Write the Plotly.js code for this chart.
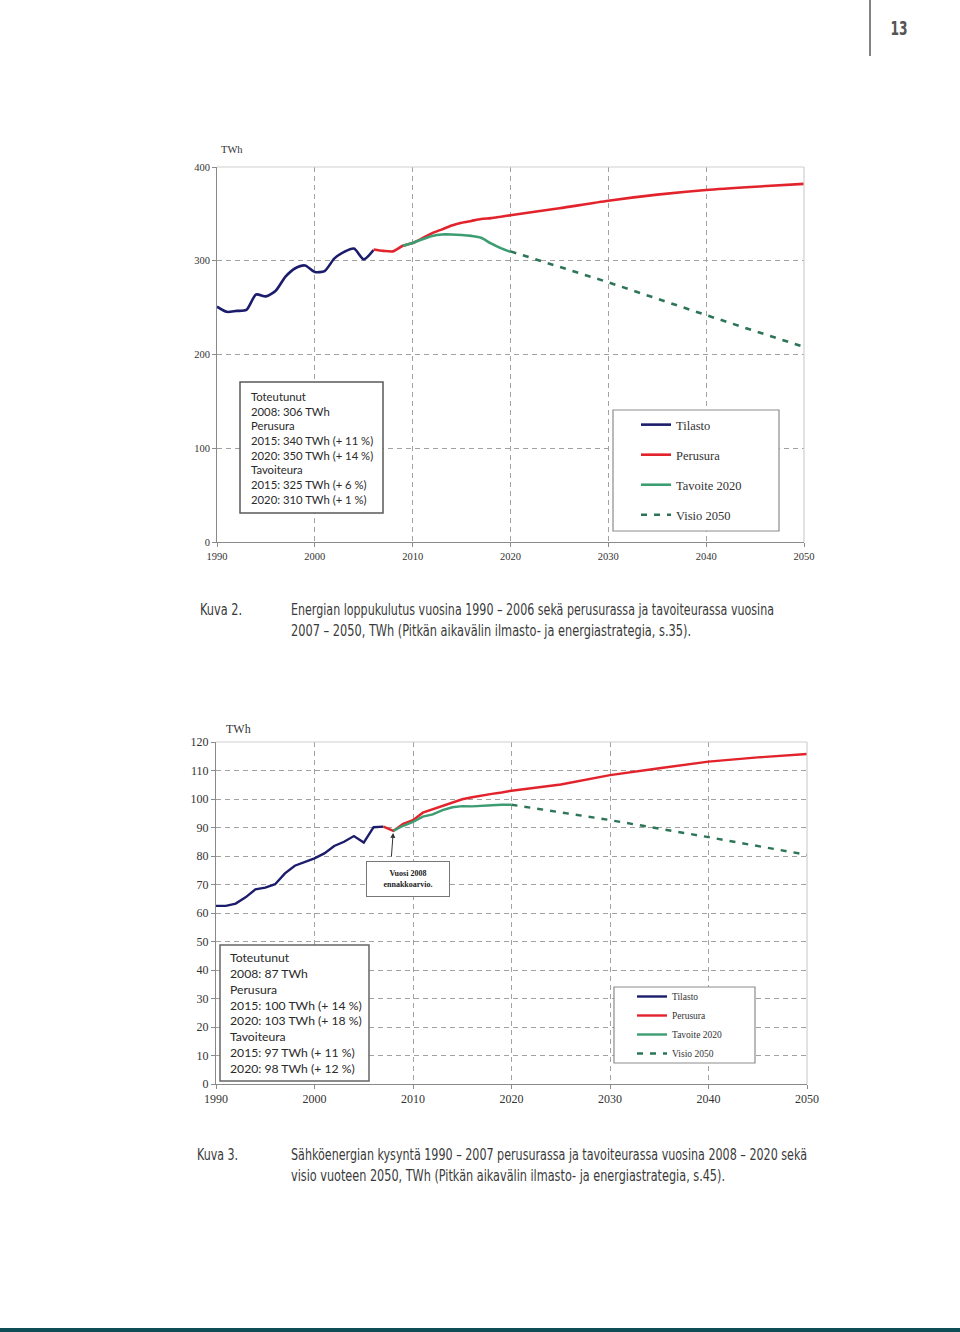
<!DOCTYPE html>
<html><head><meta charset="utf-8">
<script src="https://cdn.plot.ly/plotly-3.0.1.min.js"></script>
<style>html,body{margin:0;padding:0;background:#fff}#chart{width:960px;height:1332px}</style>
</head><body><div id="chart"></div>
<script>
// ---------- Shared ----------
const seriesNames = ['Tilasto', 'Perusura', 'Tavoite 2020', 'Visio 2050'];
const xTicks = [1990, 2000, 2010, 2020, 2030, 2040, 2050];

// ---------- Kuva 2 (energy, TWh) ----------
const c1StatYears = [1990,1991,1992,1993,1994,1995,1996,1997,1998,1999,2000,2001,2002,2003,2004,2005,2006];
const c1StatValues = [251,245.5,246.5,247.5,264,262,268,283,292,295,288,289,302.5,309.5,313,301.5,311.5];
const c1PerYears = [2006,2007,2008,2009,2010,2011,2012,2013,2014,2015,2016,2017,2018,2019,2020,2025,2030,2035,2040,2045,2050];
const c1PerValues = [312,310.5,310,316,319,324,329.5,333.5,337.5,340.5,342.5,344.5,345.5,347,348.5,356,364,370.5,375.5,379,382];
const c1TavYears = [2009,2010,2011,2012,2013,2014,2015,2016,2017,2018,2019,2020];
const c1TavValues = [316,319,323,326.5,328,328,327.5,326.5,324.5,318.5,313.5,309.5];
const c1VisYears = [2020,2030,2040,2050];
const c1VisValues = [310,277,242,208];
const c1YTicks = [0,100,200,300,400];
const c1BoxLines = ['Toteutunut','2008: 306 TWh','Perusura','2015: 340 TWh (+ 11 %)','2020: 350 TWh (+ 14 %)','Tavoiteura','2015: 325 TWh (+ 6 %)','2020: 310 TWh (+ 1 %)'];
const caption1 = ['Energian loppukulutus vuosina 1990 – 2006 sekä perusurassa ja tavoiteurassa vuosina',
                  '2007 – 2050, TWh (Pitkän aikavälin ilmasto- ja energiastrategia, s.35).'];

// ---------- Kuva 3 (electricity, TWh) ----------
const c2StatYears = [1990,1991,1992,1993,1994,1995,1996,1997,1998,1999,2000,2001,2002,2003,2004,2005,2006,2007];
const c2StatValues = [62.5,62.5,63.3,65.5,68.3,68.9,70.1,73.9,76.6,78,79.2,80.9,83.5,85,87,84.7,90.1,90.3];
const c2PerYears = [2007,2008,2009,2010,2011,2012,2013,2014,2015,2016,2017,2018,2019,2020,2025,2030,2035,2040,2045,2050];
const c2PerValues = [90.3,88.8,91.3,92.6,95.2,96.4,97.5,98.9,99.9,100.6,101.3,101.8,102.3,102.9,105.1,108.4,110.8,113.1,114.6,115.8];
const c2TavYears = [2008,2009,2010,2011,2012,2013,2014,2015,2016,2017,2018,2019,2020];
const c2TavValues = [88.8,90.6,92,93.8,94.6,96.1,97.1,97.5,97.4,97.5,97.8,98,98];
const c2VisYears = [2020,2030,2040,2050];
const c2VisValues = [98,92.6,86.6,80.4];
const c2YTicks = [0,10,20,30,40,50,60,70,80,90,100,110,120];
const c2BoxLines = ['Toteutunut','2008: 87 TWh','Perusura','2015: 100 TWh (+ 14 %)','2020: 103 TWh (+ 18 %)','Tavoiteura','2015: 97 TWh (+ 11 %)','2020: 98 TWh (+ 12 %)'];
const c2Note = ['Vuosi 2008', 'ennakkoarvio.'];
const caption2 = ['Sähköenergian kysyntä 1990 – 2007 perusurassa ja tavoiteurassa vuosina 2008 – 2020 sekä',
                  'visio vuoteen 2050, TWh (Pitkän aikavälin ilmasto- ja energiastrategia, s.45).'];
const pageNumber = '13';

// ---------- Styles ----------
const W = 960, H = 1332;
const px = v => v / W;
const py = v => 1 - v / H;
const COL = {navy:'#1c1c6c', red:'#e2232b', green:'#3c9c72', visio:'#2d7556'};
const serif = 'Liberation Serif, Times New Roman, serif';
const sansBox = 'Lato, Open Sans, sans-serif';
const narrow = 'Liberation Sans Narrow, DejaVu Sans Condensed, Roboto, sans-serif';

function tr(x, y, i, ax, ay, lg, grp, spline, w) {
  const line = {color: [COL.navy, COL.red, COL.green, COL.visio][i], width: w};
  if (i === 3) line.dash = '6px,7px';
  if (spline && i !== 3) { line.shape = 'spline'; line.smoothing = 0.7; }
  return {x, y, name: seriesNames[i], type: 'scatter', mode: 'lines', line,
          xaxis: ax, yaxis: ay, legend: lg, legendgroup: grp + i, showlegend: true, hoverinfo: 'skip'};
}

const data = [
  tr(c1StatYears, c1StatValues, 0, 'x', 'y', 'legend', 'a', true, 2.6),
  tr(c1PerYears, c1PerValues, 1, 'x', 'y', 'legend', 'a', true, 2.6),
  tr(c1TavYears, c1TavValues, 2, 'x', 'y', 'legend', 'a', true, 2.6),
  tr(c1VisYears, c1VisValues, 3, 'x', 'y', 'legend', 'a', false, 2.6),
  tr(c2StatYears, c2StatValues, 0, 'x2', 'y2', 'legend2', 'b', false, 2.4),
  tr(c2PerYears, c2PerValues, 1, 'x2', 'y2', 'legend2', 'b', false, 2.4),
  tr(c2TavYears, c2TavValues, 2, 'x2', 'y2', 'legend2', 'b', false, 2.4),
  tr(c2VisYears, c2VisValues, 3, 'x2', 'y2', 'legend2', 'b', false, 2.4)
];

function axis(domain, range, tickvals, anchor, fs) {
  return {domain, range, tickmode: 'array', tickvals, anchor,
    showgrid: true, gridcolor: '#a2a2a2', gridwidth: 1, griddash: '5px,4px',
    showline: true, linecolor: '#8a8a8a', linewidth: 1, zeroline: false,
    ticks: 'outside', ticklen: 4, tickcolor: '#8a8a8a', tickwidth: 1,
    tickfont: {family: serif, size: fs, color: '#333'}, fixedrange: true};
}

function boxShape(x0, x1, y0, y1, color) {
  return {type:'rect', xref:'paper', yref:'paper', x0:px(x0), x1:px(x1), y0:py(y1), y1:py(y0),
          fillcolor:'#fff', line:{color, width:1.5}, layer:'above'};
}

const layout = {
  width: W, height: H, margin: {l: 0, r: 0, t: 0, b: 0},
  paper_bgcolor: '#fff', plot_bgcolor: '#fff', showlegend: true,
  xaxis: axis([px(217), px(804)], [1990, 2050], xTicks, 'y', 10.5),
  yaxis: axis([py(542), py(167)], [0, 400], c1YTicks, 'x', 10.5),
  xaxis2: axis([px(216), px(807)], [1990, 2050], xTicks, 'y2', 12),
  yaxis2: axis([py(1084), py(742)], [0, 120], c2YTicks, 'x2', 12),
  legend: {x: px(636), xanchor: 'left', y: py(410), yanchor: 'top', bgcolor: 'rgba(0,0,0,0)',
           borderwidth: 0, tracegroupgap: 10.8, font: {family: serif, size: 12.5, color: '#333'}},
  legend2: {x: px(632), xanchor: 'left', y: py(982), yanchor: 'top', bgcolor: 'rgba(0,0,0,0)',
           borderwidth: 0, tracegroupgap: 0, font: {family: serif, size: 9.5, color: '#333'}},
  shapes: [
    // plot frame top/right (light)
    {type:'line', xref:'x domain', yref:'y domain', x0:0, x1:1, y0:1, y1:1, line:{color:'#cfcfcf', width:1.2}, layer:'above'},
    {type:'line', xref:'x domain', yref:'y domain', x0:1, x1:1, y0:0, y1:1, line:{color:'#cfcfcf', width:1.2}, layer:'above'},
    {type:'line', xref:'x2 domain', yref:'y2 domain', x0:0, x1:1, y0:1, y1:1, line:{color:'#cfcfcf', width:1.2}, layer:'above'},
    {type:'line', xref:'x2 domain', yref:'y2 domain', x0:1, x1:1, y0:0, y1:1, line:{color:'#cfcfcf', width:1.2}, layer:'above'},
    // legend boxes
    {type:'rect', xref:'paper', yref:'paper', x0:px(613), x1:px(779), y0:py(531), y1:py(410), fillcolor:'#fff', line:{color:'#8c8c8c', width:1.2}, layer:'above'},
    {type:'rect', xref:'paper', yref:'paper', x0:px(614), x1:px(755), y0:py(1063), y1:py(987), fillcolor:'#fff', line:{color:'#8c8c8c', width:1.2}, layer:'above'},
    // info boxes
    boxShape(240, 383, 382, 513, '#5a5a5a'),
    boxShape(220, 369, 945, 1081, '#666'),
    // page header line and bottom bar
    {type:'line', xref:'paper', yref:'paper', x0:px(870), x1:px(870), y0:py(56), y1:1, line:{color:'#5a5a5a', width:1.5}},
    {type:'rect', xref:'paper', yref:'paper', x0:0, x1:1, y0:0, y1:py(1328), fillcolor:'#0e4d55', line:{width:0}}
  ],
  annotations: [
    // 0-5 captions (condensed afterwards)
    {text: 'Kuva 2.', x: px(199), y: py(609)},
    {text: caption1[0], x: px(290), y: py(609)},
    {text: caption1[1], x: px(290), y: py(630)},
    {text: 'Kuva 3.', x: px(196), y: py(1154)},
    {text: caption2[0], x: px(290), y: py(1154)},
    {text: caption2[1], x: px(290), y: py(1175)}
  ].map(a => Object.assign({xref:'paper', yref:'paper', xanchor:'left', yanchor:'middle', align:'left',
        showarrow:false, borderpad:0, font:{family: narrow, size:16, color:'#3a3a3a'}}, a)).concat([
    // 6 page number
    {text: '<b>' + pageNumber + '</b>', x: px(899), y: py(28), xref:'paper', yref:'paper', xanchor:'center', yanchor:'middle',
     showarrow:false, font:{family: narrow, size:19, color:'#555'}},
    // TWh labels
    {text: 'TWh', x: px(232), y: py(150), xref:'paper', yref:'paper', xanchor:'center', yanchor:'middle', showarrow:false,
     font:{family: serif, size:10.5, color:'#333'}},
    {text: 'TWh', x: px(238), y: py(729), xref:'paper', yref:'paper', xanchor:'center', yanchor:'middle', showarrow:false,
     font:{family: serif, size:12, color:'#333'}},
    // info box texts
    {text: c1BoxLines.join('<br>'), x: px(250), y: py(447.5), xref:'paper', yref:'paper', xanchor:'left', yanchor:'middle',
     align:'left', showarrow:false, borderpad:0, font:{family: sansBox, size:11.3, color:'#2a2a2a'}},
    {text: c2BoxLines.join('<br>'), x: px(229), y: py(1013), xref:'paper', yref:'paper', xanchor:'left', yanchor:'middle',
     align:'left', showarrow:false, borderpad:0, font:{family: sansBox, size:12.2, color:'#2a2a2a'}},
    // note box + arrow
    {text: '<b>' + c2Note.join('<br>') + '</b>', x: px(408), y: py(879), xref:'paper', yref:'paper', xanchor:'center', yanchor:'middle',
     align:'center', showarrow:false, bgcolor:'#fff', bordercolor:'#777', borderwidth:1, borderpad:2, width: 78, height: 30,
     font:{family: serif, size:8, color:'#222'}},
    {text: '', x: c2PerYears[1], y: c2PerValues[1], xref:'x2', yref:'y2', showarrow:true, ax:-2, ay:27,
     arrowhead:2, arrowsize:1, arrowwidth:1, arrowcolor:'#333', standoff:2}
  ])
};

Plotly.newPlot('chart', data, layout, {staticPlot: true}).then(function () {
  const targets = {0: 42, 1: 483, 2: 400, 3: 41, 4: 516, 5: 434};
  Object.keys(targets).forEach(function (i) {
    const t = document.querySelector('g.annotation[data-index="' + i + '"] text.annotation-text');
    if (t) { t.setAttribute('textLength', targets[i]); t.setAttribute('lengthAdjust', 'spacingAndGlyphs'); }
  });
  const pn = document.querySelector('g.annotation[data-index="6"] text.annotation-text');
  if (pn) { pn.setAttribute('textLength', 17); pn.setAttribute('lengthAdjust', 'spacingAndGlyphs'); }
});
</script>
</body></html>
